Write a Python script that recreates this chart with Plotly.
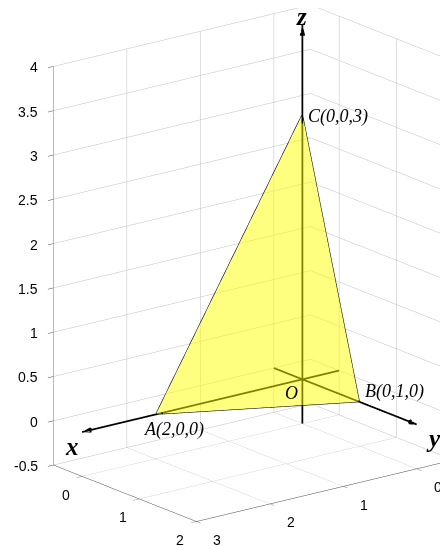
import numpy as np
import plotly.graph_objects as go

# ---------------- data ----------------
vertex_labels = ["A(2,0,0)", "B(0,1,0)", "C(0,0,3)"]
vertex_x = [2, 0, 0]
vertex_y = [0, 1, 0]
vertex_z = [0, 0, 3]

x_range = [-0.5, 3]
y_range = [-0.5, 2]
z_range = [-0.5, 4]

x_ticks = [0, 1, 2, 3]
x_tick_text = ["0", "1", "2", "3"]
y_ticks = [0, 1, 2]
y_tick_text = ["0", "1", "2"]
z_ticks = [-0.5, 0, 0.5, 1, 1.5, 2, 2.5, 3, 3.5, 4]
z_tick_text = ["-0.5", "0", "0.5", "1", "1.5", "2", "2.5", "3", "3.5", "4"]

axis_names = ["x", "y", "z"]
axis_starts = [-0.5, -0.5, -0.5]
axis_ends = [3, 2, 4]

# ---------------- view ----------------
azim = np.deg2rad(52.1)
elev = np.deg2rad(17.9)
ppu = 93.1                 # pixels per data unit
k = ppu / 273.0            # scene units per data unit
span = np.array([x_range[1] - x_range[0], y_range[1] - y_range[0], z_range[1] - z_range[0]])
d = np.array([np.cos(elev) * np.cos(azim), np.cos(elev) * np.sin(azim), np.sin(elev)])
right = np.array([-np.sin(azim), np.cos(azim), 0.0])
up = np.array([-np.sin(elev) * np.cos(azim), -np.sin(elev) * np.sin(azim), np.cos(elev)])
shift_px = np.array([-21.5, -17.8])  # screen centre relative to box centre (right, up)
delta = (shift_px[0] * right + shift_px[1] * up) / ppu
center = delta * k
eye = center + 2.0 * d

fig = go.Figure()

# triangle face
fig.add_trace(go.Mesh3d(
    x=vertex_x, y=vertex_y, z=vertex_z, i=[0], j=[1], k=[2],
    color="rgb(255,255,0)", opacity=0.5, flatshading=True,
    lighting=dict(ambient=1, diffuse=0, specular=0, roughness=1, fresnel=0),
    hoverinfo="skip", showscale=False))

# triangle edges
fig.add_trace(go.Scatter3d(
    x=vertex_x + [vertex_x[0]], y=vertex_y + [vertex_y[0]], z=vertex_z + [vertex_z[0]],
    mode="lines", line=dict(color="black", width=1.2), hoverinfo="skip", showlegend=False))

# coordinate axes with arrows
for n, (s, e) in enumerate(zip(axis_starts, axis_ends)):
    p0 = [0, 0, 0]
    p1 = [0, 0, 0]
    p0[n] = s
    p1[n] = e
    fig.add_trace(go.Scatter3d(
        x=[p0[0], p1[0]], y=[p0[1], p1[1]], z=[p0[2], p1[2]],
        mode="lines", line=dict(color="black", width=3.5),
        hoverinfo="skip", showlegend=False))
    vec = [0, 0, 0]
    vec[n] = 1.0
    fig.add_trace(go.Cone(
        x=[p1[0]], y=[p1[1]], z=[p1[2]], u=[vec[0]], v=[vec[1]], w=[vec[2]],
        anchor="tip", sizemode="absolute", sizeref=0.115,
        colorscale=[[0, "black"], [1, "black"]], showscale=False,
        lighting=dict(ambient=1, diffuse=0, specular=0, roughness=1, fresnel=0),
        hoverinfo="skip"))

serif = "Liberation Serif"
annotations = []
label_shift = [(18, -15), (35, 10), (36, -3)]
for name, x, y, z, (sx, sy) in zip(vertex_labels, vertex_x, vertex_y, vertex_z, label_shift):
    annotations.append(dict(x=x, y=y, z=z, text="<i>" + name + "</i>", showarrow=False,
                            xshift=sx, yshift=sy, font=dict(family=serif, size=18, color="black")))
annotations.append(dict(x=0, y=0, z=0, text="<i>O</i>", showarrow=False, xshift=-11, yshift=-14,
                        font=dict(family=serif, size=18, color="black")))
axis_label_shift = [(-10, -14), (17, -14), (-1, 8)]
for n, (name, e, (sx, sy)) in enumerate(zip(axis_names, axis_ends, axis_label_shift)):
    p = [0, 0, 0]
    p[n] = e
    annotations.append(dict(x=p[0], y=p[1], z=p[2], text="<b><i>" + name + "</i></b>", showarrow=False,
                            xshift=sx, yshift=sy, font=dict(family=serif, size=25, color="black")))

# tick labels (placed like MATLAB's)
tick_font = dict(family="Liberation Sans", size=14, color="black")
for t, s in zip(z_ticks, z_tick_text):
    annotations.append(dict(x=x_range[1], y=y_range[0], z=t, text=s, showarrow=False,
                            xanchor="right", yanchor="middle", xshift=-14, yshift=-1,
                            borderpad=0, font=tick_font))
for t, s in zip(x_ticks, x_tick_text):
    annotations.append(dict(x=t, y=y_range[1], z=z_range[0], text=s, showarrow=False,
                            xanchor="center", yanchor="middle", xshift=21, yshift=-18.5,
                            borderpad=0, font=tick_font))
for t, s in zip(y_ticks, y_tick_text):
    annotations.append(dict(x=x_range[1], y=t, z=z_range[0], text=s, showarrow=False,
                            xanchor="center", yanchor="middle", xshift=-16, yshift=-18.4,
                            borderpad=0, font=tick_font))

common = dict(showgrid=True, gridcolor="rgb(190,190,190)", gridwidth=1,
              showline=True, linecolor="rgb(70,70,70)", linewidth=1,
              ticks="outside", ticklen=7, tickcolor="rgb(70,70,70)",
              showticklabels=False,
              showbackground=False, zeroline=False, showspikes=False,
              title=dict(text=""))

fig.update_layout(
    width=448, height=546, margin=dict(l=0, r=0, t=0, b=0),
    paper_bgcolor="white", showlegend=False,
    scene=dict(
        domain=dict(x=[0, 1], y=[0, 1]),
        xaxis=dict(range=x_range, tickvals=x_ticks, **common),
        yaxis=dict(range=y_range, tickvals=y_ticks, **common),
        zaxis=dict(range=z_range, tickvals=z_ticks, **common),
        aspectmode="manual",
        aspectratio=dict(x=span[0] * k, y=span[1] * k, z=span[2] * k),
        camera=dict(eye=dict(x=eye[0], y=eye[1], z=eye[2]),
                    center=dict(x=center[0], y=center[1], z=center[2]),
                    up=dict(x=0, y=0, z=1),
                    projection=dict(type="orthographic")),
        annotations=annotations,
    ),
)

fig.write_html("out.html")
